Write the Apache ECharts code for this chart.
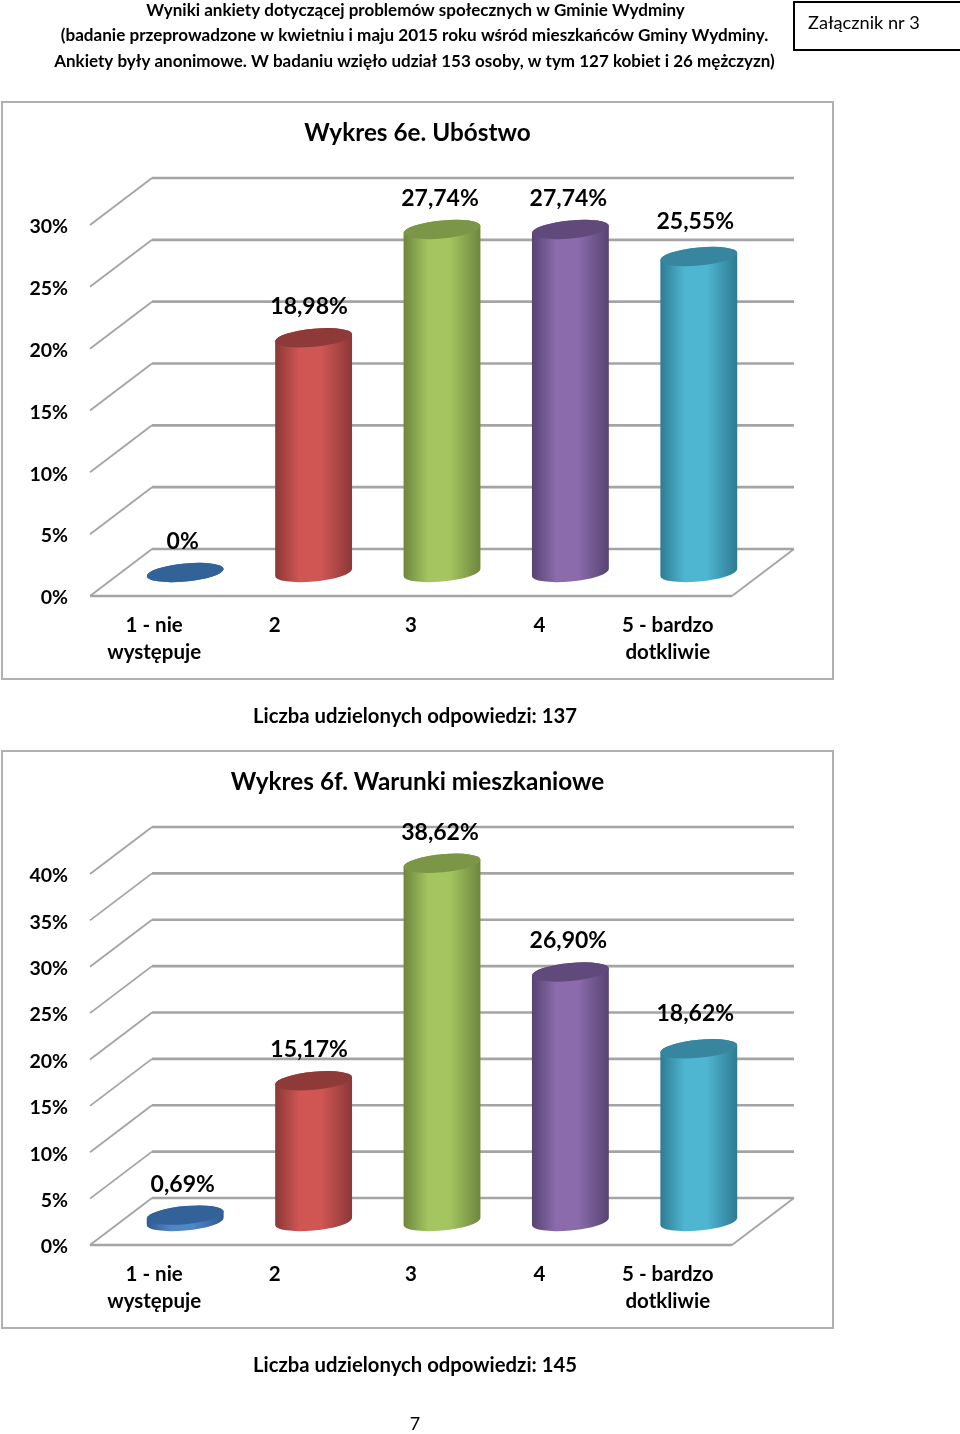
<!DOCTYPE html>
<html><head><meta charset="utf-8">
<style>html,body{margin:0;padding:0;background:#fff}#c{width:960px;height:1434px}</style>
<script src="https://cdn.jsdelivr.net/npm/echarts@6/dist/echarts.min.js"></script>
</head><body><div id="c"></div>
<script>
const categories = ['1 - nie\nwystępuje', '2', '3', '4', '5 - bardzo\ndotkliwie'];
const values6e = [0, 18.98, 27.74, 27.74, 25.55];
const labels6e = ['0%', '18,98%', '27,74%', '27,74%', '25,55%'];
const values6f = [0.69, 15.17, 38.62, 26.90, 18.62];
const labels6f = ['0,69%', '15,17%', '38,62%', '26,90%', '18,62%'];
const ticks6e = [0, 5, 10, 15, 20, 25, 30];
const ticks6f = [0, 5, 10, 15, 20, 25, 30, 35, 40];
const title6e = 'Wykres 6e. Ubóstwo';
const title6f = 'Wykres 6f. Warunki mieszkaniowe';
const footer6e = 'Liczba udzielonych odpowiedzi: 137';
const footer6f = 'Liczba udzielonych odpowiedzi: 145';
const headerLines = [
  'Wyniki ankiety dotyczącej problemów społecznych w Gminie Wydminy',
  '(badanie przeprowadzone w kwietniu i maju 2015 roku wśród mieszkańców Gminy Wydminy.',
  'Ankiety były anonimowe. W badaniu wzięło udział 153 osoby, w tym 127 kobiet i 26 mężczyzn)'
];
const attachment = 'Załącznik nr 3';
const pageNumber = '7';

const FONT = 'Lato';
const GRID_LINE = '#a4a4a4';
const DX = 62, DY = -47;
const RX = 38.6, RY = 9, ROT = -5.5;
const LABEL_SHIFT = [-2.5, -4.5, -2, -2, -3.5];
const palette = [
  {edge:'#2f5a8f', mid:'#4f86c6', top:'#336299'},
  {edge:'#8a3836', mid:'#d05654', top:'#8e3a38'},
  {edge:'#6c863c', mid:'#a4c560', top:'#7b9647'},
  {edge:'#574372', mid:'#8b6bac', top:'#604a7c'},
  {edge:'#2d7b92', mid:'#4fb6d2', top:'#37859e'}
];
const rad = ROT * Math.PI / 180;
const EX = Math.sqrt(RX*RX*Math.cos(rad)**2 + RY*RY*Math.sin(rad)**2);
const EY = (RX*RX - RY*RY) * Math.sin(rad) * Math.cos(rad) / EX;

function wallItem(params, api) {
  const tick = api.value(1);
  const y = api.coord([0, tick])[1];
  const x0 = params.coordSys.x, x1 = x0 + params.coordSys.width;
  const ln = (a, b, c, d, w) => ({type:'line', silent:true, shape:{x1:a,y1:b,x2:c,y2:d},
    style:{stroke:GRID_LINE, lineWidth:w, fill:null}});
  const kids = [ln(x0, y, x0 + DX, y + DY, 1.8), ln(x0 + DX, y + DY, x1 + DX, y + DY, 2.6)];
  if (tick === 0) {
    kids.push(ln(x0, y, x1, y, 2.6));
    kids.push(ln(x1, y, x1 + DX, y + DY, 1.8));
  }
  return {type:'group', children:kids};
}
function cylinderItem(labels) {
  return function (params, api) {
    const i = api.value(0);
    const base = api.coord([i, 0]);
    const top = api.coord([i, api.value(1)]);
    const cx = base[0] + DX / 2, by = base[1] + DY / 2, ty = top[1] + DY / 2;
    const c = palette[i];
    const A = (x, y, s) => `A${RX} ${RY} ${ROT} 0 ${s} ${x} ${y}`;
    const body = `M${cx-EX} ${ty-EY}L${cx-EX} ${by-EY}` + A(cx+EX, by+EY, 0) +
      `L${cx+EX} ${ty+EY}` + A(cx-EX, ty-EY, 0) + 'Z';
    const cap = `M${cx-EX} ${ty-EY}` + A(cx+EX, ty+EY, 1) + A(cx-EX, ty-EY, 1) + 'Z';
    const grad = {type:'linear', x:0, y:0, x2:1, y2:0, colorStops:[
      {offset:0, color:c.edge}, {offset:0.32, color:c.mid}, {offset:0.6, color:c.mid},
      {offset:1, color:c.edge}]};
    const extra = (i === 4) ? 4 : 0;
    return {type:'group', children:[
      {type:'path', shape:{pathData:body}, style:{fill:grad}},
      {type:'path', shape:{pathData:cap}, style:{fill:c.top}},
      {type:'text', style:{text:labels[i], x:cx+LABEL_SHIFT[i], y:ty-31-extra, align:'center', verticalAlign:'middle',
        font:`bold 23px ${FONT}`, fill:'#000'}}
    ]};
  };
}
const mkGrid = (top) => ({left:90, width:642, top:top, height:371, containLabel:false});
const mkX = (g) => ({gridIndex:g, type:'category', data:categories, axisLine:{show:false}, axisTick:{show:false},
  splitLine:{show:false},
  axisLabel:{interval:0, margin:16, lineHeight:27, color:'#000', fontFamily:FONT, fontWeight:'bold', fontSize:20.5,
    formatter:v => v === '2' ? '{shift|2}' : v,
    rich:{shift:{padding:[0,16,0,0], color:'#000', fontFamily:FONT, fontWeight:'bold', fontSize:20.5}}}});
const mkY = (g, max) => ({gridIndex:g, type:'value', min:0, max:max, interval:5, axisLine:{show:false},
  axisTick:{show:false}, splitLine:{show:false},
  axisLabel:{margin:22, formatter:'{low|{value}%}',
    rich:{low:{padding:[4,0,0,0], color:'#000', fontFamily:FONT, fontWeight:'bold', fontSize:19.5}}}});
const wall = (g, ticks) => ({type:'custom', xAxisIndex:g, yAxisIndex:g, z:1, silent:true,
  encode:{x:0,y:1}, data:ticks.map(t => [0, t]), renderItem:wallItem});
const cyl = (g, vals, labs) => ({type:'custom', xAxisIndex:g, yAxisIndex:g, z:2, silent:true,
  encode:{x:0,y:1}, data:vals.map((v,i) => [i, v]), renderItem:cylinderItem(labs)});
const txt = (t, x, y, font, align) => ({type:'text', x:x, y:y, silent:true,
  style:{text:t, font:font, fill:'#000', align:align||'center', verticalAlign:'middle'}});
const box = (x, y, w, h, stroke, lw) => ({type:'rect', silent:true, shape:{x,y,width:w,height:h},
  style:{fill:null, stroke:stroke, lineWidth:lw}});

const chart = echarts.init(document.getElementById('c'), null, {renderer:'canvas'});
chart.setOption({
  animation:false, backgroundColor:'#fff',
  grid:[mkGrid(225), mkGrid(874)],
  xAxis:[mkX(0), mkX(1)],
  yAxis:[mkY(0, 30), mkY(1, 40)],
  series:[wall(0, ticks6e), cyl(0, values6e, labels6e), wall(1, ticks6f), cyl(1, values6f, labels6f)],
  graphic:{elements:[
    box(2, 102, 831, 577, '#b0b0b0', 2),
    box(2, 751, 831, 577, '#b0b0b0', 2),
    box(794, 2, 170, 48, '#000', 2),
    txt(headerLines[0], 415.5, 11, `bold 17px ${FONT}`),
    txt(headerLines[1], 414.5, 35.5, `bold 17.1px ${FONT}`),
    txt(headerLines[2], 414.5, 62, `bold 17px ${FONT}`),
    txt(attachment, 808, 23, `18.2px ${FONT}`, 'left'),
    txt(title6e, 417.5, 133, `bold 24.3px ${FONT}`),
    txt(title6f, 417.5, 782, `bold 24.3px ${FONT}`),
    txt(footer6e, 415, 716, `bold 20.3px ${FONT}`),
    txt(footer6f, 415, 1365, `bold 20.3px ${FONT}`),
    txt(pageNumber, 415, 1424, `18px ${FONT}`)
  ]}
});
</script></body></html>
